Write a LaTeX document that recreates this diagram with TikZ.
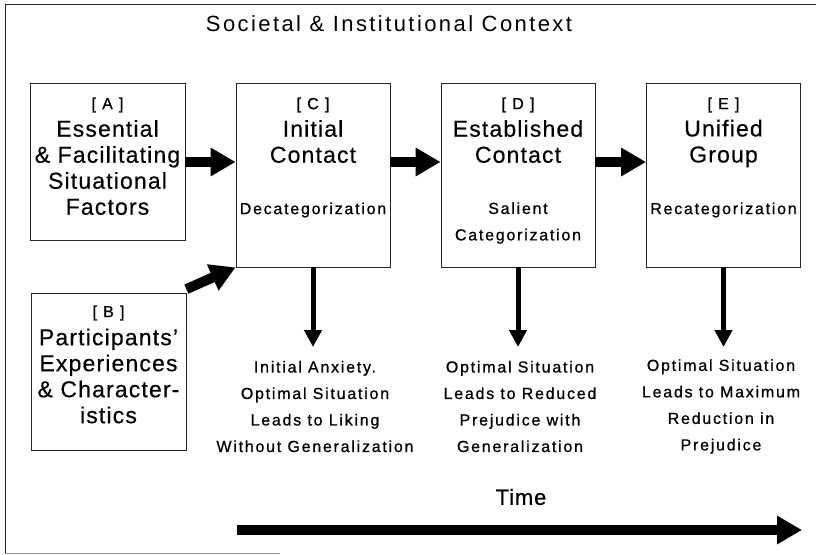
\documentclass[tikz,border=0pt]{standalone}
\usepackage{fontspec}
\setmainfont{Liberation Sans}
\usetikzlibrary{arrows.meta}

\newcommand{\bigtxt}{\fontsize{23}{26}\selectfont\addfontfeatures{LetterSpace=5,FakeBold=0.4}}
\newcommand{\smalltxt}{\fontsize{16}{26.5}\selectfont\addfontfeatures{LetterSpace=11,FakeBold=0.8}}
\newcommand{\titletxt}{\fontsize{22}{25}\selectfont\addfontfeatures{LetterSpace=11}}

\begin{document}
\begin{tikzpicture}[
  x=1pt, y=-1pt,
  stage/.style={rectangle, draw=black!85, line width=0.8pt, minimum width=154pt, minimum height=184pt, inner sep=0pt},
  side/.style={stage, minimum width=155pt, minimum height=157pt},
  big/.style={align=center, inner sep=0pt, font=\bigtxt},
  small/.style={align=center, inner sep=0pt, font=\smalltxt},
  fat/.style={line width=10pt, -{Triangle[length=25pt,width=27pt]}},
  thin/.style={line width=5pt, -{Triangle[length=17pt,width=17pt]}, shorten >=-2pt}
]
\useasboundingbox (0,0) rectangle (816,554);

% Rahmen
\draw[black!85, line width=0.8pt] (5,553) -- (5,4) -- (816,4);
\draw[black!40, line width=0.6pt] (5,553) -- (280,553);
\node[font=\titletxt, inner sep=0pt] (context) at (389,24) {Societal \& Institutional Context};

% Kaesten
\node[side]  (boxA) at (107.5,161.5) {};
\node[side]  (boxB) at (108.5,372) {};
\node[stage] (boxC) at (313,175) {};
\node[stage] (boxD) at (518,175) {};
\node[stage] (boxE) at (723.5,175) {};

% Texte
\node[small] (tagA) at (107.5,105) {[ A ]};
\node[big]   (txtA) at (107.5,167.5) {Essential\\\& Facilitating\\Situational\\Factors};
\node[small] (tagB) at (108.5,313) {[ B ]};
\node[big]   (txtB) at (108.5,376) {Participants'\\Experiences\\\& Character-\\istics};
\node[small] (tagC) at (313,105) {[ C ]};
\node[big]   (txtC) at (313,141.5) {Initial\\Contact};
\node[small] (subC) at (313,210) {Decategorization};
\node[small] (tagD) at (518,105) {[ D ]};
\node[big]   (txtD) at (518,141.5) {Established\\Contact};
\node[small] (subD) at (518,223) {Salient\\Categorization};
\node[small] (tagE) at (723.5,105) {[ E ]};
\node[big]   (txtE) at (723.5,143.5) {Unified\\Group};
\node[small] (subE) at (723.5,210) {Recategorization};

% Ergebnisse
\node[small] (resC) at (315,406.5) {Initial Anxiety.\\Optimal Situation\\Leads to Liking\\Without Generalization};
\node[small] (resD) at (520,406.5) {Optimal Situation\\Leads to Reduced\\Prejudice with\\Generalization};
\node[small] (resE) at (721,406.5) {Optimal Situation\\Leads to Maximum\\Reduction in\\Prejudice};

% Pfeile
\draw[fat] (boxA.east |- 0,162) -- (boxC.west |- 0,162);
\draw[fat] (boxC.east |- 0,162) -- (boxD.west |- 0,162);
\draw[fat] (boxD.east |- 0,162) -- (boxE.west |- 0,162);
\draw[fat] ([yshift=4pt]boxB.north east) -- (boxC.south west);
\draw[thin] (boxC.south) -- (boxC.south |- 0,345);
\draw[thin] (boxD.south) -- (boxD.south |- 0,345);
\draw[thin] (boxE.south) -- (boxE.south |- 0,345);

% Zeitachse
\node[font=\fontsize{22}{26}\selectfont\addfontfeatures{LetterSpace=4,FakeBold=0.4}, inner sep=0pt] (time) at (521,497) {Time};
\coordinate (tstart) at (237,530);
\coordinate (tend) at (802,530);
\draw[fat] (tstart) -- (tend);

\end{tikzpicture}
\end{document}
